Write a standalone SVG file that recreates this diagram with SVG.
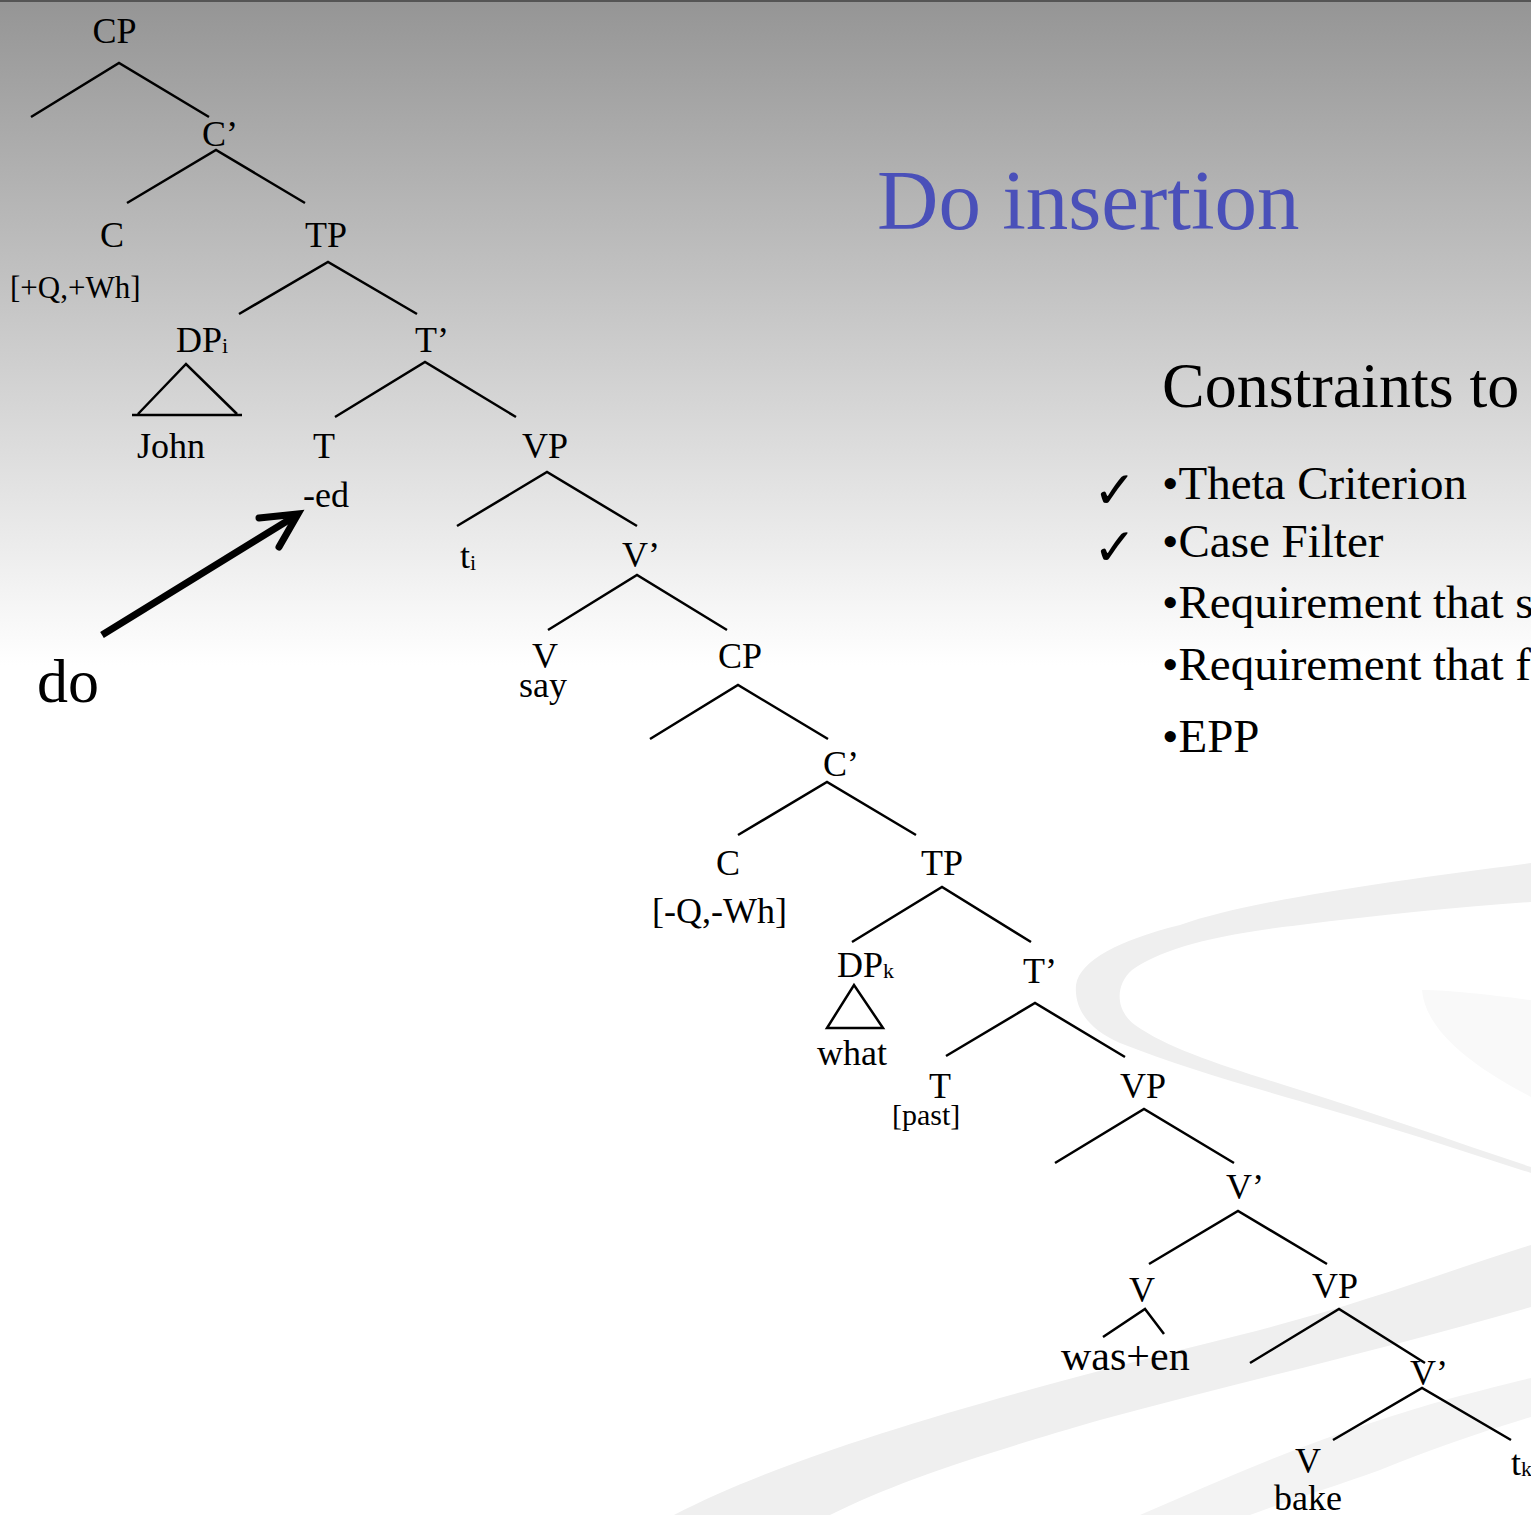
<svg xmlns="http://www.w3.org/2000/svg" width="1531" height="1515" viewBox="0 0 1531 1515">
<defs>
<linearGradient id="bg" gradientUnits="userSpaceOnUse" x1="0" y1="0" x2="0" y2="665">
<stop offset="0" stop-color="#959595"/>
<stop offset="1" stop-color="#ffffff"/>
</linearGradient>
<style>
.n{font-family:"Liberation Serif","Times New Roman",serif;font-size:36px;fill:#000}
.m{text-anchor:middle}
.sub{font-size:22px}
.e{stroke:#000;stroke-width:2.5;fill:none;stroke-linecap:butt}
.b{font-family:"Liberation Serif","Times New Roman",serif;font-size:47px;fill:#000}
.ck{font-family:"DejaVu Sans",sans-serif;font-size:52px;fill:#000}
.sw{fill:#efefef;stroke:none}
</style>
</defs>
<rect x="0" y="0" width="1531" height="1515" fill="url(#bg)"/>
<rect x="0" y="0" width="1531" height="2" fill="#555"/>
<g id="background-swooshes">
<path class="sw" d="M1531,863 C1400,880 1250,900 1180,925 C1120,940 1080,960 1076,985 C1074,1010 1090,1030 1120,1043 C1200,1075 1300,1100 1380,1125 C1440,1143 1490,1160 1531,1173 L1531,1167 C1450,1140 1380,1115 1300,1090 C1230,1068 1170,1050 1135,1025 C1115,1010 1115,985 1132,970 C1160,950 1210,935 1300,925 C1380,915 1460,907 1531,902 Z"/>
<path fill="#f9f9f9" d="M1422,990 C1425,1025 1460,1060 1531,1097 L1531,1000 C1490,995 1450,990 1422,990 Z"/>
<path class="sw" d="M674,1515 C800,1450 1000,1395 1240,1335 C1360,1305 1450,1270 1531,1245 L1531,1307 C1400,1345 1250,1380 1100,1420 C980,1455 900,1480 830,1515 Z"/>
<path fill="#f3f3f3" d="M1140,1515 C1220,1480 1300,1445 1380,1420 C1440,1400 1490,1388 1531,1378 L1531,1417 C1480,1432 1430,1450 1380,1470 C1330,1488 1290,1500 1250,1515 Z"/>
</g>
<g id="title">
<text x="877" y="229" font-family="Liberation Serif, Times New Roman, serif" font-size="85" fill="#4a50b9">Do insertion</text>
</g>
<g id="constraints">
<text x="1162" y="407" font-family="Liberation Serif, Times New Roman, serif" font-size="64" fill="#000">Constraints to</text>
<text class="b" x="1162" y="499">•Theta Criterion</text>
<text class="b" x="1162" y="557">•Case Filter</text>
<text class="b" x="1162" y="618">•Requirement that s</text>
<text class="b" x="1162" y="680">•Requirement that f</text>
<text class="b" x="1162" y="752">•EPP</text>
<text class="ck" x="1093" y="508">✓</text>
<text class="ck" x="1093" y="565">✓</text>
</g>
<g id="do-arrow">
<text x="37" y="702" font-family="Liberation Serif, Times New Roman, serif" font-size="62" fill="#000">do</text>
<line x1="102" y1="635" x2="292" y2="518" stroke="#000" stroke-width="7" stroke-linecap="butt"/>
<polyline points="259,518 298,514 279,547" fill="none" stroke="#000" stroke-width="7" stroke-linecap="round" stroke-linejoin="miter"/>
</g>
<g id="connectors">
<path class="e" d="M31,117 L119,63 L209,117"/>
<path class="e" d="M127,203 L216,150 L305,203"/>
<path class="e" d="M239,314 L328,262 L417,314"/>
<path class="e" d="M335,417 L425,362 L516,417"/>
<path class="e" d="M457,526 L547,472 L637,526"/>
<path class="e" d="M548,630 L637,575 L727,630"/>
<path class="e" d="M650,739 L738,685 L828,739"/>
<path class="e" d="M738,835 L827,782 L916,835"/>
<path class="e" d="M852,942 L942,887 L1031,942"/>
<path class="e" d="M946,1056 L1035,1003 L1125,1057"/>
<path class="e" d="M1055,1163 L1144,1109 L1234,1163"/>
<path class="e" d="M1149,1264 L1238,1211 L1327,1264"/>
<path class="e" d="M1103,1337 L1145,1309 L1164,1334"/>
<path class="e" d="M1250,1363 L1339,1309 L1425,1363"/>
<path class="e" d="M1333,1440 L1422,1388 L1511,1440"/>
<path class="e" d="M132,415 L242,415 M138,414 L186,364 L237,414"/>
<path class="e" d="M827,1028 L883,1028 L854,985 Z"/>
</g>
<g id="n-CP1"><text class="n m" x="114.5" y="43">CP</text></g>
<g id="n-Cbar1"><text class="n m" x="220" y="146">C’</text></g>
<g id="n-C1"><text class="n m" x="112" y="247">C</text><text class="n" x="10" y="298" style="font-size:31px">[+Q,+Wh]</text></g>
<g id="n-TP1"><text class="n m" x="326" y="247">TP</text></g>
<g id="n-DPi"><text class="n" x="176" y="352">DP<tspan class="sub" dy="1">i</tspan></text><text class="n" x="137" y="458">John</text></g>
<g id="n-Tbar1"><text class="n m" x="432" y="352">T’</text></g>
<g id="n-T1"><text class="n m" x="324" y="458">T</text><text class="n" x="303" y="507">-ed</text></g>
<g id="n-VP1"><text class="n m" x="545" y="458">VP</text></g>
<g id="n-ti"><text class="n" x="460" y="568">t<tspan class="sub" dy="2">i</tspan></text></g>
<g id="n-Vbar1"><text class="n m" x="641" y="567">V’</text></g>
<g id="n-V1"><text class="n m" x="545" y="668">V</text><text class="n m" x="543" y="697">say</text></g>
<g id="n-CP2"><text class="n m" x="740" y="668">CP</text></g>
<g id="n-Cbar2"><text class="n m" x="841" y="776">C’</text></g>
<g id="n-C2"><text class="n m" x="728" y="875">C</text><text class="n" x="652" y="923">[-Q,-Wh]</text></g>
<g id="n-TP2"><text class="n m" x="942" y="875">TP</text></g>
<g id="n-DPk"><text class="n" x="837" y="977">DP<tspan class="sub" dy="1">k</tspan></text><text class="n m" x="852" y="1065">what</text></g>
<g id="n-Tbar2"><text class="n m" x="1040" y="983">T’</text></g>
<g id="n-T2"><text class="n m" x="940" y="1098">T</text><text class="n" x="892" y="1125" style="font-size:30px">[past]</text></g>
<g id="n-VP2"><text class="n m" x="1143" y="1098">VP</text></g>
<g id="n-Vbar2"><text class="n m" x="1245" y="1199">V’</text></g>
<g id="n-V2"><text class="n m" x="1142" y="1302">V</text><text class="n" x="1061" y="1370" style="font-size:42px">was+en</text></g>
<g id="n-VP3"><text class="n m" x="1335" y="1298">VP</text></g>
<g id="n-Vbar3"><text class="n m" x="1429" y="1385">V’</text></g>
<g id="n-V3"><text class="n m" x="1308" y="1473">V</text><text class="n m" x="1308" y="1510">bake</text></g>
<g id="n-tk"><text class="n" x="1511" y="1475">t<tspan class="sub" dy="1">k</tspan></text></g>
</svg>
